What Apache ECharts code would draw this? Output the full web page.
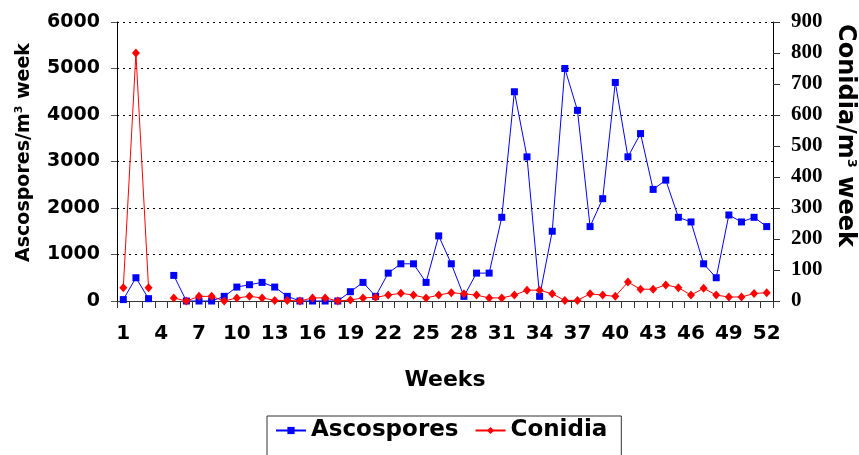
<!DOCTYPE html>
<html>
<head>
<meta charset="utf-8">
<script src="https://cdn.jsdelivr.net/npm/echarts@6/dist/echarts.min.js"></script>
<style>
  html, body { margin: 0; padding: 0; background: #fff; }
  #chart { width: 859px; height: 455px; }
</style>
</head>
<body>
<div id="chart"></div>
<script>
// weeks 1..52
const weeks = Array.from({length: 52}, (_, i) => String(i + 1))

// Ascospores/m3 week (left axis), week 4 missing
const ascospores = [
  30, 500, 50, null, 550, 0, 0, 0, 100, 300,
  350, 400, 300, 100, 0, 0, 0, 0, 200, 400,
  100, 600, 800, 800, 400, 1400, 800, 100, 600, 600,
  1800, 4500, 3100, 100, 1500, 5000, 4100, 1600, 2200, 4700,
  3100, 3600, 2400, 2600, 1800, 1700, 800, 500, 1850, 1700,
  1800, 1600
]

// Conidia/m3 week (right axis)
const conidia = [
  43, 800, 43, null, 10, 0, 15, 15, 0, 10,
  15, 10, 2, 2, 0, 10, 10, 0, 3, 10,
  12, 19, 25, 19, 10, 19, 27, 23, 19, 10,
  10, 19, 35, 35, 23, 2, 2, 23, 19, 15,
  61, 38, 38, 52, 43, 19, 41, 19, 13, 13,
  24, 27
]

const sans = 'DejaVu Sans'
const serif = 'Liberation Serif'

const chart = echarts.init(document.getElementById('chart'))

const option = {
  animation: false,
  grid: {left: 117, right: 86, top: 22, bottom: 154, outerBoundsMode: 'none'},
  legend: {
    left: 267,
    top: 416,
    padding: [3, 14, 24, 8],
    borderColor: '#333',
    borderWidth: 1,
    itemWidth: 30,
    itemHeight: 9,
    itemGap: 16,
    textStyle: {fontFamily: sans, fontWeight: 'bold', fontSize: 23, color: '#000', lineHeight: 20},
    data: ['Ascospores', 'Conidia']
  },
  xAxis: {
    type: 'category',
    data: weeks,
    boundaryGap: true,
    name: 'Weeks',
    nameLocation: 'middle',
    nameGap: 68,
    nameTextStyle: {fontFamily: sans, fontWeight: 'bold', fontSize: 22, color: '#000'},
    axisLine: {lineStyle: {color: '#333', width: 1}},
    axisTick: {show: true, interval: 0, length: 7, lineStyle: {color: '#333'}},
    axisLabel: {
      interval: 2,
      margin: 23,
      fontFamily: sans,
      fontWeight: 'bold',
      fontSize: 20,
      color: '#000'
    },
    splitLine: {show: false}
  },
  yAxis: [
    {
      type: 'value',
      position: 'left',
      min: 0,
      max: 6000,
      interval: 1000,
      name: 'Ascospores/m{sup|3} week',
      nameLocation: 'middle',
      nameGap: 83,
      nameTextStyle: {
        fontFamily: sans, fontWeight: 'bold', fontSize: 19, color: '#000',
        padding: [0, 0, 0, 18],
        rich: {sup: {fontFamily: sans, fontWeight: 'bold', fontSize: 11, color: '#000', padding: [0, 0, 9, 0]}}
      },
      axisLine: {show: true, lineStyle: {color: '#000', width: 1}},
      axisTick: {show: true, length: 6, lineStyle: {color: '#555'}},
      axisLabel: {
        margin: 17, fontFamily: sans, fontWeight: 'bold', fontSize: 19, color: '#000',
        formatter: v => String(v)
      },
      splitLine: {show: true, lineStyle: {color: '#000', width: 1.2, type: [2, 4]}}
    },
    {
      type: 'value',
      position: 'right',
      min: 0,
      max: 900,
      interval: 100,
      name: 'Conidia/m{sup|3} week',
      nameLocation: 'middle',
      nameGap: 48,
      nameRotate: -90,
      nameTextStyle: {
        fontFamily: sans, fontWeight: 'bold', fontSize: 24, color: '#000',
        padding: [0, 52, 0, 0],
        rich: {sup: {fontFamily: sans, fontWeight: 'bold', fontSize: 13, color: '#000', padding: [0, 0, 11, 0]}}
      },
      axisLine: {show: true, lineStyle: {color: '#000', width: 1}},
      axisTick: {show: true, length: 7, lineStyle: {color: '#333'}},
      axisLabel: {margin: 18, fontFamily: serif, fontWeight: 'bold', fontSize: 21, color: '#000'},
      splitLine: {show: false}
    }
  ],
  series: [
    {
      name: 'Ascospores',
      type: 'line',
      yAxisIndex: 0,
      data: ascospores,
      connectNulls: false,
      showAllSymbol: true,
      symbol: 'rect',
      symbolSize: 7,
      lineStyle: {color: '#0000ff', width: 1},
      itemStyle: {color: '#0000ff'},
      z: 3
    },
    {
      name: 'Conidia',
      type: 'line',
      yAxisIndex: 1,
      data: conidia,
      connectNulls: false,
      showAllSymbol: true,
      symbol: 'diamond',
      symbolSize: [8, 9],
      lineStyle: {color: '#ff0000', width: 1},
      itemStyle: {color: '#ff0000'},
      z: 4
    }
  ]
}

chart.setOption(option)
</script>
</body>
</html>
